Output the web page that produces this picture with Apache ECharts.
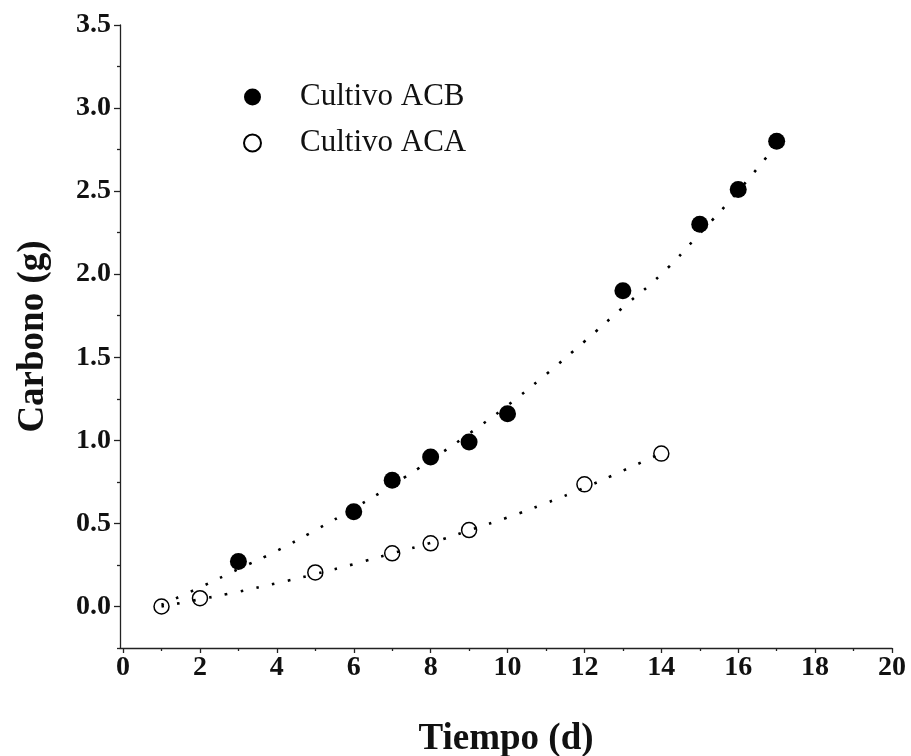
<!DOCTYPE html>
<html>
<head>
<meta charset="utf-8">
<script src="https://cdn.jsdelivr.net/npm/echarts@6/dist/echarts.min.js"></script>
<style>
  html, body { margin: 0; padding: 0; background: #fff; }
  #chart { width: 911px; height: 756px; }
</style>
</head>
<body>
<div id="chart"></div>
<script>
// Measured carbon (g) per culture day
const acbDays = [3, 6, 7, 8, 9, 10, 13, 15, 16, 17];
const acbCarbon = [0.27, 0.57, 0.76, 0.90, 0.99, 1.16, 1.90, 2.30, 2.51, 2.80];
const acaDays = [1, 2, 5, 7, 8, 9, 12, 14];
const acaCarbon = [0.00, 0.05, 0.205, 0.32, 0.38, 0.46, 0.735, 0.92];

// Fitted trend curves (dotted)
const acbTrendDays = [1, 2, 3, 4, 5, 6, 7, 8, 9, 10, 11, 12, 13, 14, 15, 16, 17];
const acbTrendCarbon = [0.01, 0.115, 0.225, 0.335, 0.459, 0.59, 0.73, 0.88, 1.04, 1.21, 1.397, 1.595, 1.80, 2.0, 2.245, 2.50, 2.78];
const acaTrendDays = [1, 2, 3, 4, 5, 6, 7, 8, 9, 10, 11, 12, 13, 14];
const acaTrendCarbon = [0.0, 0.043, 0.089, 0.14, 0.195, 0.255, 0.32, 0.383, 0.458, 0.536, 0.622, 0.715, 0.817, 0.923];

// Axis ticks
const xMajorTicks = [0, 2, 4, 6, 8, 10, 12, 14, 16, 18, 20];
const xMinorTicks = [1, 3, 5, 7, 9, 11, 13, 15, 17, 19];
const yMajorTicks = [0, 0.5, 1.0, 1.5, 2.0, 2.5, 3.0, 3.5];
const yMinorTicks = [-0.25, 0.25, 0.75, 1.25, 1.75, 2.25, 2.75, 3.25];

const FONT = '"Liberation Serif", "Times New Roman", serif';
const zip = (xs, ys) => xs.map((x, i) => [x, ys[i]]);

const X_MIN = -0.08, X_MAX = 20, Y_MIN = -0.25, Y_MAX = 3.5;
const axisLine = { show: true, onZero: false, lineStyle: { color: '#222', width: 1.3 } };

const chart = echarts.init(document.getElementById('chart'), null, { renderer: 'canvas' });
chart.setOption({
  backgroundColor: '#fff',
  animation: false,
  grid: { left: 120, right: 19, top: 25, bottom: 108, containLabel: false, outerBoundsMode: 'none' },
  legend: {
    orient: 'vertical',
    left: 238,
    top: 76,
    itemWidth: 17,
    itemHeight: 17,
    itemGap: 14,
    data: ['Cultivo ACB', 'Cultivo ACA'],
    textStyle: { fontFamily: FONT, fontSize: 31, color: '#111', padding: [0, 0, 0, 34], lineHeight: 32 }
  },
  xAxis: [
    {
      type: 'value', min: X_MIN, max: X_MAX,
      axisLine: axisLine,
      splitLine: { show: false },
      axisTick: { show: true, length: 5, customValues: xMajorTicks, lineStyle: { color: '#222', width: 1.3 } },
      axisLabel: {
        customValues: xMajorTicks, margin: 6,
        fontFamily: FONT, fontWeight: 'bold', fontSize: 28, color: '#111'
      },
      name: 'Tiempo (d)', nameLocation: 'middle', nameGap: 73,
      nameTextStyle: { fontFamily: FONT, fontWeight: 'bold', fontSize: 37, color: '#111' }
    },
    {
      type: 'value', min: X_MIN, max: X_MAX, position: 'bottom',
      axisLine: { show: false, onZero: false }, splitLine: { show: false },
      axisTick: { show: true, length: 3, customValues: xMinorTicks, lineStyle: { color: '#222', width: 1.3 } },
      axisLabel: { show: false }
    }
  ],
  yAxis: [
    {
      type: 'value', min: Y_MIN, max: Y_MAX,
      axisLine: axisLine,
      splitLine: { show: false },
      axisTick: { show: true, length: 6, customValues: yMajorTicks, lineStyle: { color: '#222', width: 1.3 } },
      axisLabel: {
        customValues: yMajorTicks, margin: 9,
        formatter: v => v.toFixed(1),
        fontFamily: FONT, fontWeight: 'bold', fontSize: 28, color: '#111'
      },
      name: 'Carbono (g)', nameLocation: 'middle', nameGap: 68,
      nameTextStyle: { fontFamily: FONT, fontWeight: 'bold', fontSize: 37, color: '#111' }
    },
    {
      type: 'value', min: Y_MIN, max: Y_MAX, position: 'left',
      axisLine: { show: false, onZero: false }, splitLine: { show: false },
      axisTick: { show: true, length: 3, customValues: yMinorTicks, lineStyle: { color: '#222', width: 1.3 } },
      axisLabel: { show: false }
    }
  ],
  series: [
    {
      name: 'ACB trend', type: 'line', smooth: true, showSymbol: false, silent: true,
      data: zip(acbTrendDays, acbTrendCarbon),
      lineStyle: { color: '#000', width: 2.6, type: [2.6, 13.5] },
      z: 1
    },
    {
      name: 'ACA trend', type: 'line', smooth: true, showSymbol: false, silent: true,
      data: zip(acaTrendDays, acaTrendCarbon),
      lineStyle: { color: '#000', width: 2.6, type: [2.6, 13.5] },
      z: 1
    },
    {
      name: 'Cultivo ACB', type: 'scatter', symbol: 'circle', symbolSize: 17,
      data: zip(acbDays, acbCarbon),
      itemStyle: { color: '#000', opacity: 1 },
      z: 3
    },
    {
      name: 'Cultivo ACA', type: 'scatter', symbol: 'circle', symbolSize: 15,
      data: zip(acaDays, acaCarbon),
      itemStyle: { color: 'rgba(255,255,255,0)', borderColor: '#000', borderWidth: 1.5, opacity: 1 },
      z: 3
    }
  ]
});
</script>
</body>
</html>
